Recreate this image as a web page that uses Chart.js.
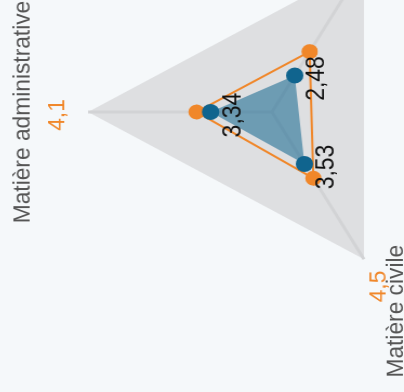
<!DOCTYPE html>
<html><head><meta charset="utf-8">
<script src="https://cdn.jsdelivr.net/npm/chart.js@4.4.1/dist/chart.umd.min.js"></script>
<style>
html,body{margin:0;padding:0;background:#f5f8fa;}
#frame{position:relative;width:404px;height:392px;overflow:hidden;background:#f5f8fa;}
#wrap{position:absolute;left:0;top:0;width:600px;height:520px;transform-origin:0 0;transform:matrix(0,-1,1.082,0,-9.3,412);}
canvas{display:block;}
</style></head><body>
<div id="frame"><div id="wrap"><canvas id="c" width="600" height="520"></canvas></div></div>
<script>
const categories = ['Matière administrative', 'Matière pénale', 'Matière civile'];
const blueValues = [3.34, 2.48, 3.53];
const orangeValues = [4.1, 4.1, 4.5];
const scaleMin = 0;
const scaleMax = 10;

const ORANGE = '#f0872a';
const BLUE = '#10648e';
const FONT = "'Liberation Sans', Arial, sans-serif";
const fmt = v => String(v).replace('.', ',');

const textPlugin = {
  id: 'radarText',
  afterDatasetsDraw(chart) {
    const scale = chart.scales.r;
    const ctx = chart.ctx;
    ctx.save();
    ctx.textAlign = 'center';
    ctx.textBaseline = 'middle';
    ctx.font = '22.75px ' + FONT;
    categories.forEach((name, i) => {
      const p = scale.getPointPosition(i, scale.drawingArea + 60);
      ctx.fillStyle = '#555555';
      ctx.fillText(name, p.x, p.y);
      const q = scale.getPointPosition(i, scale.drawingArea + 28);
      ctx.fillStyle = ORANGE;
      ctx.fillText(fmt(orangeValues[i]), q.x - 3, q.y);
    });
    ctx.font = '23px ' + FONT;
    ctx.fillStyle = '#111111';
    const meta = chart.getDatasetMeta(0);
    meta.data.forEach((pt, i) => {
      ctx.fillText(fmt(blueValues[i]), pt.x - 3, pt.y + 21);
    });
    ctx.restore();
  }
};

new Chart(document.getElementById('c'), {
  type: 'radar',
  data: {
    labels: categories,
    datasets: [
      {
        label: 'A',
        data: blueValues,
        backgroundColor: 'rgba(16,100,142,0.55)',
        borderColor: 'rgba(0,0,0,0)',
        borderWidth: 0,
        fill: true,
        pointRadius: 8,
        pointBackgroundColor: BLUE,
        pointBorderWidth: 0
      },
      {
        label: 'B',
        data: orangeValues,
        borderColor: ORANGE,
        borderWidth: 2,
        backgroundColor: 'rgba(0,0,0,0)',
        fill: false,
        pointRadius: 7.5,
        pointBackgroundColor: ORANGE,
        pointBorderWidth: 0
      }
    ]
  },
  options: {
    responsive: false,
    devicePixelRatio: 1,
    animation: false,
    layout: { padding: { left: 130, right: 130, top: 90, bottom: 90 } },
    plugins: { legend: { display: false }, tooltip: { enabled: false } },
    scales: {
      r: {
        min: scaleMin,
        max: scaleMax,
        backgroundColor: '#dedfe1',
        grid: { display: false },
        angleLines: { display: true, color: '#d2d3d5', lineWidth: 3 },
        ticks: { display: false },
        pointLabels: { display: false }
      }
    }
  },
  plugins: [textPlugin]
});
</script>
</body></html>
